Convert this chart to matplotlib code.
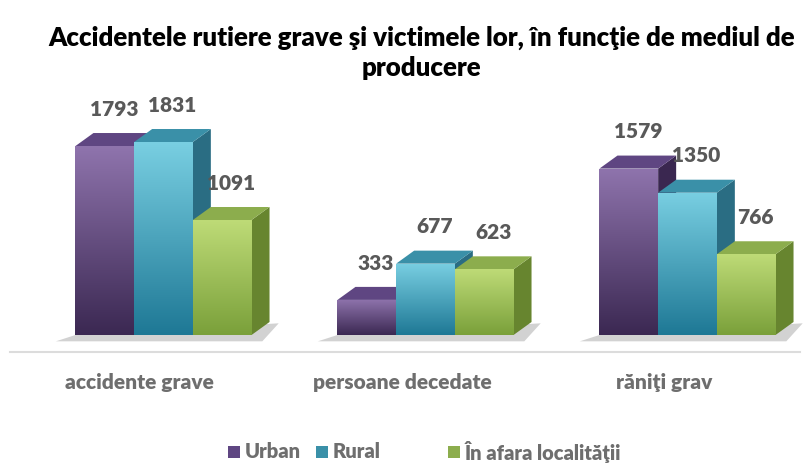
import numpy as np
import matplotlib
matplotlib.use('Agg')
import matplotlib.pyplot as plt
from matplotlib.patches import Polygon, Rectangle
from matplotlib.colors import LinearSegmentedColormap

# date
categorii = ['accidente grave', 'persoane decedate', 'răniţi grav']
serii = ['Urban', 'Rural', 'În afara localităţii']
urban = [1793, 333, 1579]
rural = [1831, 677, 1350]
afara = [1091, 623, 766]

# culori (sus, jos, capac, lateral)
culori = [
    ('#8f74ad', '#3b2852', '#5f4682', '#3a2750'),
    ('#79cfe2', '#1e7895', '#3a90a8', '#2a6d83'),
    ('#bedb77', '#7aa03a', '#8cad4d', '#67852f'),
]

plt.rcParams['font.family'] = ['Lato', 'DejaVu Sans']

W, H = 808, 463
fig = plt.figure(figsize=(W / 100, H / 100), dpi=100)
ax = fig.add_axes([0, 0, 1, 1])
ax.axis('off')

px_x = 262.0          # pixeli per grup
px_y = 0.1054         # pixeli per unitate
x0_px, base_px = 163.5, 335.0
xlim = (-x0_px / px_x, (W - x0_px) / px_x)
ylim = (-(H - base_px) / px_y, base_px / px_y)

w = 0.224
dx = 18 / px_x
dy = 13 / px_y

# linia axei
ax.plot([xlim[0] + 0.04, xlim[1] - 0.03], [-162, -162], color='#dcdcdc', lw=1.5, zorder=1)

valori = [urban, rural, afara]
grad = np.linspace(1, 0, 256).reshape(-1, 1)
z = 2
for g in range(len(categorii)):
    gl = g - 1.5 * w
    gr = g + 1.5 * w
    # umbra
    ax.add_patch(Polygon([(gl - 0.075, -60), (gr + dx * 0.6, -60), (gr + dx + 0.035, dy * 0.9), (gl, 0)],
                         closed=True, facecolor='#d2d2d2', edgecolor='none', zorder=1.5))
    for s in range(3):
        v = valori[s][g]
        xl = g + (s - 1) * w - w / 2
        xr = xl + w
        top, bot, cap, lat = culori[s]
        # lateral
        ax.add_patch(Polygon([(xr, 0), (xr, v), (xr + dx, v + dy), (xr + dx, dy)],
                             closed=True, facecolor=lat, edgecolor='none', zorder=z))
        # capac
        ax.add_patch(Polygon([(xl, v), (xl + dx, v + dy), (xr + dx, v + dy), (xr, v)],
                             closed=True, facecolor=cap, edgecolor='none', zorder=z + 0.1))
        # fata
        bars = ax.bar(xl, v, width=w, align='edge', color=bot, edgecolor='none', zorder=z + 0.2)
        cmap = LinearSegmentedColormap.from_list('c%d' % s, [bot, top])
        im = ax.imshow(grad, extent=(xl, xr, 0, v), cmap=cmap, aspect='auto', zorder=z + 0.3)
        im.set_clip_path(bars[0])
        # eticheta
        ax.text(xl + w / 2 + dx / 2, v + 350, str(v), ha='center', va='center',
                fontsize=15, fontweight='heavy', color='#595959', zorder=10)
        z += 1

for g, c in enumerate(categorii):
    ax.text(g - 0.09, -455, c, ha='center', va='center', fontsize=15,
            fontweight='heavy', color='#6e6e6e')

ax.set_xlim(*xlim)
ax.set_ylim(*ylim)

fig.text(0.522, 0.918, 'Accidentele rutiere grave şi victimele lor, în funcţie de mediul de',
         ha='center', va='center', fontsize=18.6, fontweight='heavy', color='black')
fig.text(0.521, 0.853, 'producere', ha='center', va='center', fontsize=18.6,
         fontweight='heavy', color='black')

# legenda
leg_x = [228, 316, 448]
leg_y = 452
for s, nume in enumerate(serii):
    fig.add_artist(Rectangle((leg_x[s] / W, (H - leg_y - 6) / H), 12 / W, 12 / H,
                             facecolor=culori[s][2], edgecolor='none', transform=fig.transFigure))
    fig.text((leg_x[s] + 17) / W, (H - leg_y) / H, nume, ha='left', va='center',
             fontsize=14.5, fontweight='heavy', color='#6e6e6e')

fig.savefig('out.png', dpi=100)
